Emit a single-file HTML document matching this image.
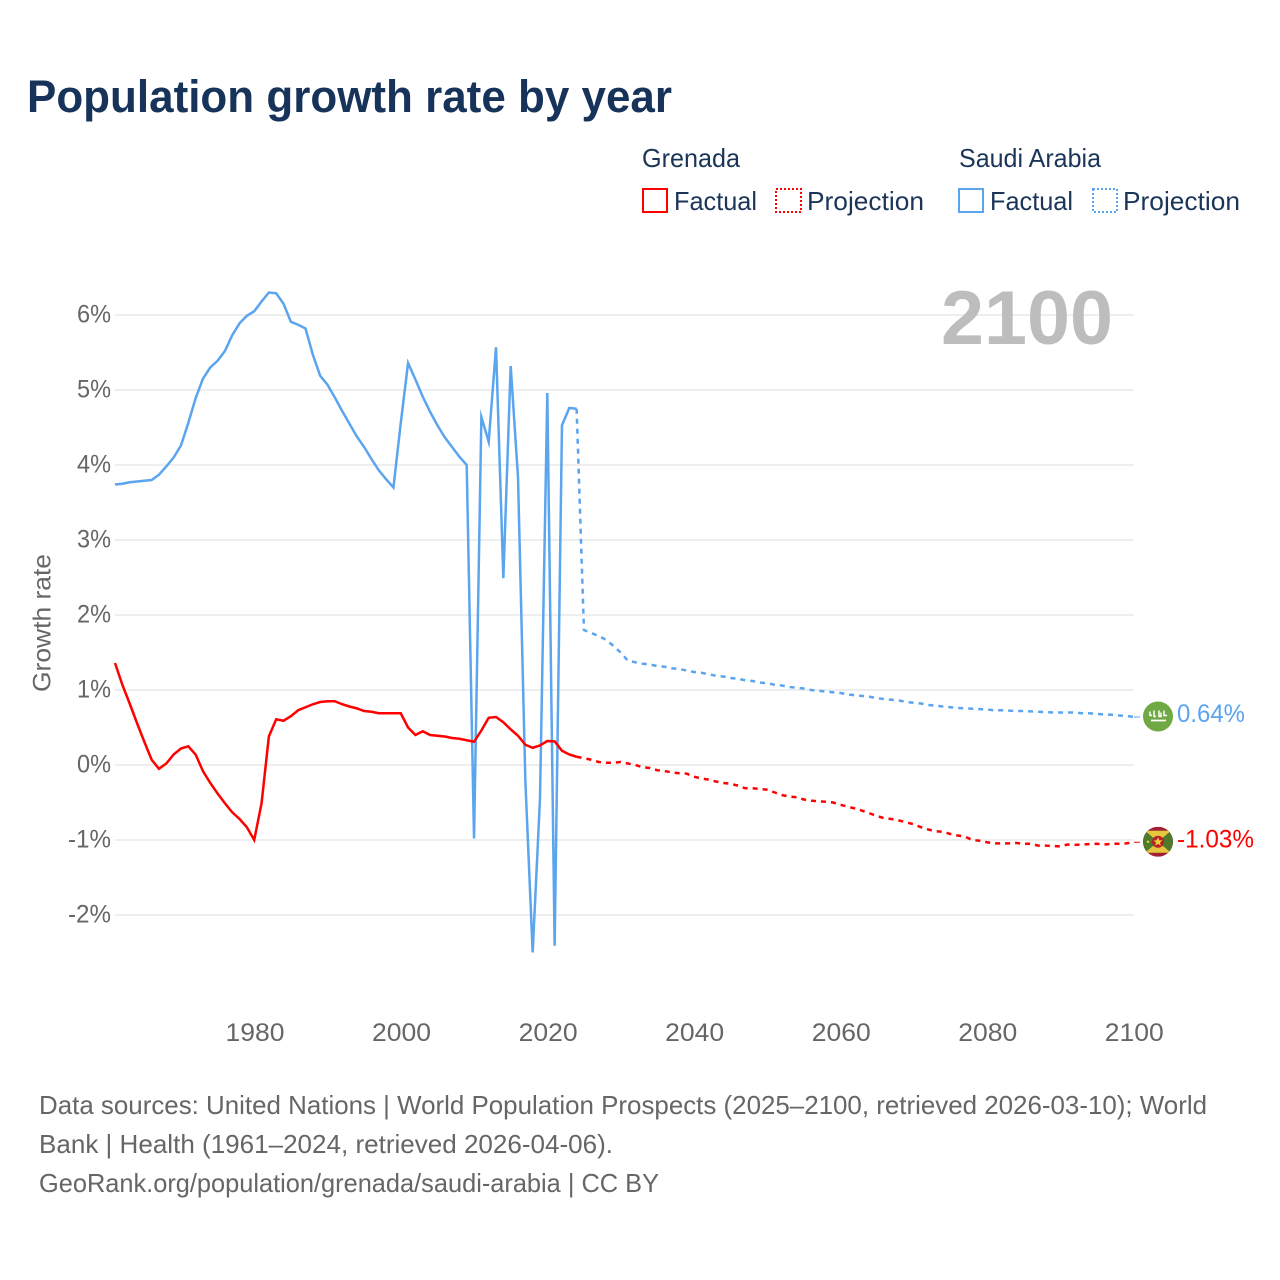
<!DOCTYPE html>
<html lang="en">
<head>
<meta charset="utf-8">
<title>Population growth rate by year</title>
<style>
html,body{margin:0;padding:0;background:#fff;}
#chart{display:block;width:1280px;height:1280px;font-family:"Liberation Sans",Arial,sans-serif;}
</style>
</head>
<body>
<svg id="chart" xmlns="http://www.w3.org/2000/svg" width="1280" height="1280" viewBox="0 0 1280 1280">
  <defs>
    <clipPath id="flag-clip-sa"><circle cx="0" cy="0" r="15"/></clipPath>
    <clipPath id="flag-clip-gd"><circle cx="0" cy="0" r="15"/></clipPath>
  </defs>
  <rect width="1280" height="1280" fill="#fff"/>
  <text x="27" y="112" font-size="45" font-weight="700" fill="#17335a" textLength="645" lengthAdjust="spacingAndGlyphs">Population growth rate by year</text>

  <g font-size="26" fill="#1b3558">
    <text x="642" y="167" textLength="98" lengthAdjust="spacingAndGlyphs">Grenada</text>
    <text x="959" y="167" textLength="142" lengthAdjust="spacingAndGlyphs">Saudi Arabia</text>
    <rect x="643" y="189" width="24" height="23" fill="none" stroke="#ff0000" stroke-width="2"/>
    <text x="674" y="210" textLength="83" lengthAdjust="spacingAndGlyphs">Factual</text>
    <rect x="776" y="189" width="25" height="23" fill="none" stroke="#ff0000" stroke-width="2" stroke-dasharray="2 2"/>
    <text x="807" y="210" textLength="117" lengthAdjust="spacingAndGlyphs">Projection</text>
    <rect x="959" y="189" width="24" height="23" fill="none" stroke="#5ba4ee" stroke-width="2"/>
    <text x="990" y="210" textLength="83" lengthAdjust="spacingAndGlyphs">Factual</text>
    <rect x="1093" y="189" width="24" height="23" fill="none" stroke="#5ba4ee" stroke-width="2" stroke-dasharray="2 2"/>
    <text x="1123" y="210" textLength="117" lengthAdjust="spacingAndGlyphs">Projection</text>
  </g>

  <text transform="translate(50.5,623) rotate(-90)" text-anchor="middle" font-size="25" fill="#666" textLength="138" lengthAdjust="spacingAndGlyphs">Growth rate</text>

  <g id="grid"></g>
  <g id="y-ticks"></g>
  <g id="x-ticks"></g>

  <text x="1113" y="344" text-anchor="end" font-size="76" font-weight="700" fill="#bdbdbd" textLength="172" lengthAdjust="spacingAndGlyphs">2100</text>

  <g id="series"></g>

  <g id="end-labels"></g>

  <g id="flag-saudi">
    <g clip-path="url(#flag-clip-sa)">
      <rect x="-15" y="-15" width="30" height="30" fill="#6fa845"/>
      <g fill="none" stroke="#fff" stroke-width="1.5">
        <path d="M-8 -5 V-1 H-6 M-4 -6 V0 H-2 M1 -6 V0 H3 V-4 M6 -6 V-1 H9"/>
      </g>
      <path d="M-7 4 H8" stroke="#fff" stroke-width="1.8"/>
    </g>
  </g>

  <g id="flag-grenada">
    <g clip-path="url(#flag-clip-gd)">
      <rect x="-15" y="-15" width="30" height="30" fill="#a31f34"/>
      <rect x="-15" y="-11" width="30" height="22" fill="#4f7a2c"/>
      <path d="M-13 -11 H13 L0 0 Z M-13 11 H13 L0 0 Z" fill="#e6c53f"/>
      <circle cx="0" cy="0" r="6" fill="#b5202f"/>
      <path d="M0 -4.5 L1.3 -1.4 L4.5 -1.4 L2 .7 L2.8 3.9 L0 2.1 L-2.8 3.9 L-2 .7 L-4.5 -1.4 L-1.3 -1.4 Z" fill="#f1d12d"/>
      <circle cx="-10" cy="0" r="1.3" fill="#e6c53f"/>
    </g>
  </g>

  <g font-size="26" fill="#666">
    <text x="39" y="1114" textLength="1168" lengthAdjust="spacingAndGlyphs">Data sources: United Nations | World Population Prospects (2025–2100, retrieved 2026-03-10); World</text>
    <text x="39" y="1153" textLength="574" lengthAdjust="spacingAndGlyphs">Bank | Health (1961–2024, retrieved 2026-04-06).</text>
    <text x="39" y="1192" textLength="620" lengthAdjust="spacingAndGlyphs">GeoRank.org/population/grenada/saudi-arabia | CC BY</text>
  </g>
</svg>
<script>
const factualStartYear = 1961;
const projectionStartYear = 2025;
const yTickValues = [6, 5, 4, 3, 2, 1, 0, -1, -2];
const yTickLabels = ["6%", "5%", "4%", "3%", "2%", "1%", "0%", "-1%", "-2%"];
const xTickYears = [1980, 2000, 2020, 2040, 2060, 2080, 2100];

const saudiFactual = [
  3.74, 3.75, 3.77, 3.78, 3.79, 3.80, 3.87, 3.98, 4.10, 4.26,
  4.56, 4.89, 5.15, 5.30, 5.39, 5.52, 5.73, 5.89, 5.99, 6.05,
  6.18, 6.30, 6.29, 6.15, 5.91, 5.87, 5.82, 5.47, 5.19, 5.07,
  4.90, 4.72, 4.55, 4.38, 4.24, 4.08, 3.93, 3.81, 3.70, 4.56,
  5.36, 5.14, 4.91, 4.71, 4.53, 4.37, 4.24, 4.11, 4.00, -0.98,
  4.64, 4.31, 5.57, 2.49, 5.32, 3.84, -0.20, -2.50, -0.45, 4.96,
  -2.41, 4.53, 4.76, 4.75
];
const saudiProjection = [
  1.80, 1.76, 1.72, 1.67, 1.59, 1.50, 1.39, 1.37, 1.35, 1.34,
  1.32, 1.31, 1.29, 1.28, 1.26, 1.24, 1.23, 1.21, 1.19, 1.18,
  1.16, 1.15, 1.13, 1.12, 1.10, 1.09, 1.07, 1.06, 1.04, 1.03,
  1.02, 1.00, 0.99, 0.98, 0.97, 0.96, 0.94, 0.93, 0.92, 0.91,
  0.89, 0.88, 0.87, 0.86, 0.84, 0.83, 0.82, 0.80, 0.79, 0.78,
  0.77, 0.76, 0.755, 0.75, 0.745, 0.74, 0.73, 0.73, 0.725, 0.72,
  0.72, 0.715, 0.71, 0.705, 0.70, 0.70, 0.70, 0.70, 0.69, 0.69,
  0.68, 0.675, 0.67, 0.66, 0.655, 0.64
];
const grenadaFactual = [
  1.36, 1.07, 0.82, 0.56, 0.31, 0.07, -0.05, 0.02, 0.14, 0.22,
  0.25, 0.14, -0.08, -0.24, -0.38, -0.51, -0.63, -0.72, -0.83, -1.00,
  -0.51, 0.38, 0.61, 0.59, 0.65, 0.73, 0.77, 0.81, 0.84, 0.85,
  0.85, 0.81, 0.78, 0.755, 0.72, 0.71, 0.69, 0.69, 0.69, 0.69,
  0.50, 0.40, 0.45, 0.40, 0.39, 0.38, 0.36, 0.35, 0.33, 0.31,
  0.46, 0.63, 0.64, 0.57, 0.475, 0.39, 0.27, 0.23, 0.26, 0.32,
  0.315, 0.19, 0.14, 0.11
];
const grenadaProjection = [
  0.09, 0.07, 0.04, 0.03, 0.03, 0.04, 0.02, 0.00, -0.03, -0.04,
  -0.07, -0.08, -0.10, -0.11, -0.115, -0.155, -0.18, -0.195, -0.22, -0.24,
  -0.25, -0.275, -0.31, -0.31, -0.32, -0.33, -0.365, -0.40, -0.42, -0.43,
  -0.46, -0.475, -0.485, -0.49, -0.50, -0.53, -0.555, -0.58, -0.61, -0.645,
  -0.68, -0.71, -0.72, -0.74, -0.765, -0.79, -0.83, -0.86, -0.885, -0.89,
  -0.92, -0.94, -0.955, -1.00, -1.01, -1.03, -1.045, -1.045, -1.045, -1.04,
  -1.05, -1.05, -1.075, -1.075, -1.08, -1.085, -1.06, -1.065, -1.06, -1.055,
  -1.05, -1.06, -1.05, -1.05, -1.045, -1.03
];
const endLabels = ["0.64%", "-1.03%"];

const SVG_NS = "http://www.w3.org/2000/svg";
const xAxis = function (year) { return 115 + (year - 1961) * (1133.5 - 115) / 139; };
const yAxis = function (value) { return 765 - value * 75; };

function makeLinePath(startYear, values, prefixYear, prefixValue) {
  const parts = [];
  if (prefixYear !== null) {
    parts.push("M" + xAxis(prefixYear).toFixed(2) + " " + yAxis(prefixValue).toFixed(2));
  }
  values.forEach(function (v, i) {
    const cmd = parts.length ? "L" : "M";
    parts.push(cmd + xAxis(startYear + i).toFixed(2) + " " + yAxis(v).toFixed(2));
  });
  return parts.join(" ");
}

const gridGroup = document.getElementById("grid");
const yTickGroup = document.getElementById("y-ticks");
yTickValues.forEach(function (v, i) {
  const line = document.createElementNS(SVG_NS, "line");
  line.setAttribute("x1", 115);
  line.setAttribute("x2", 1133.5);
  line.setAttribute("y1", yAxis(v));
  line.setAttribute("y2", yAxis(v));
  line.setAttribute("stroke", "#eeeeee");
  line.setAttribute("stroke-width", 2);
  
  
  gridGroup.appendChild(line);

  const label = document.createElementNS(SVG_NS, "text");
  label.setAttribute("x", 111);
  label.setAttribute("y", yAxis(v) + 7.5);
  label.setAttribute("text-anchor", "end");
  label.setAttribute("font-size", 25);
  label.setAttribute("fill", "#666");
  label.setAttribute("textLength", v < 0 ? 43 : 34);
  label.setAttribute("lengthAdjust", "spacingAndGlyphs");
  label.textContent = yTickLabels[i];
  
  
  yTickGroup.appendChild(label);
});

const xTickGroup = document.getElementById("x-ticks");
xTickYears.forEach(function (year) {
  const label = document.createElementNS(SVG_NS, "text");
  label.setAttribute("x", xAxis(year) + 0.8);
  label.setAttribute("y", 1041);
  label.setAttribute("text-anchor", "middle");
  label.setAttribute("font-size", 25);
  label.setAttribute("fill", "#666");
  label.setAttribute("textLength", 59);
  label.setAttribute("lengthAdjust", "spacingAndGlyphs");
  label.textContent = String(year);
  
  
  xTickGroup.appendChild(label);
});

const seriesGroup = document.getElementById("series");
function addSeries(d, color, dashed, name) {
  const path = document.createElementNS(SVG_NS, "path");
  path.setAttribute("d", d);
  path.setAttribute("fill", "none");
  path.setAttribute("stroke", color);
  path.setAttribute("stroke-width", 2.5);
  path.setAttribute("stroke-linejoin", "miter");
  path.setAttribute("stroke-miterlimit", 10);
  if (dashed) { path.setAttribute("stroke-dasharray", "5 5"); }
  
  
  seriesGroup.appendChild(path);
}
const BLUE = "#5ba4ee";
const RED = "#ff0000";
addSeries(makeLinePath(factualStartYear, saudiFactual, null, 0), BLUE, false, "saudi-factual-line");
addSeries(makeLinePath(projectionStartYear, saudiProjection, projectionStartYear - 1, saudiFactual[saudiFactual.length - 1]), BLUE, true, "saudi-projection-line");
addSeries(makeLinePath(factualStartYear, grenadaFactual, null, 0), RED, false, "grenada-factual-line");
addSeries(makeLinePath(projectionStartYear, grenadaProjection, projectionStartYear - 1, grenadaFactual[grenadaFactual.length - 1]), RED, true, "grenada-projection-line");

const endGroup = document.getElementById("end-labels");
function addEnd(value, text, color, width, flagId, name) {
  const y = yAxis(value);
  const leader = document.createElementNS(SVG_NS, "line");
  leader.setAttribute("x1", 1134);
  leader.setAttribute("x2", 1143);
  leader.setAttribute("y1", y);
  leader.setAttribute("y2", y);
  leader.setAttribute("stroke", color);
  leader.setAttribute("stroke-width", 1);
  leader.setAttribute("stroke-dasharray", "6 3");
  
  
  endGroup.appendChild(leader);

  const label = document.createElementNS(SVG_NS, "text");
  label.setAttribute("x", 1177);
  label.setAttribute("y", y + 5);
  label.setAttribute("font-size", 25);
  label.setAttribute("fill", color);
  label.setAttribute("textLength", width);
  label.setAttribute("lengthAdjust", "spacingAndGlyphs");
  label.textContent = text;
  
  
  endGroup.appendChild(label);

  document.getElementById(flagId).setAttribute("transform", "translate(1158," + (y - 0.5) + ")");
}
addEnd(saudiProjection[saudiProjection.length - 1], endLabels[0], BLUE, 68, "flag-saudi", "saudi-end");
addEnd(grenadaProjection[grenadaProjection.length - 1], endLabels[1], RED, 77, "flag-grenada", "grenada-end");
</script>
</body>
</html>
